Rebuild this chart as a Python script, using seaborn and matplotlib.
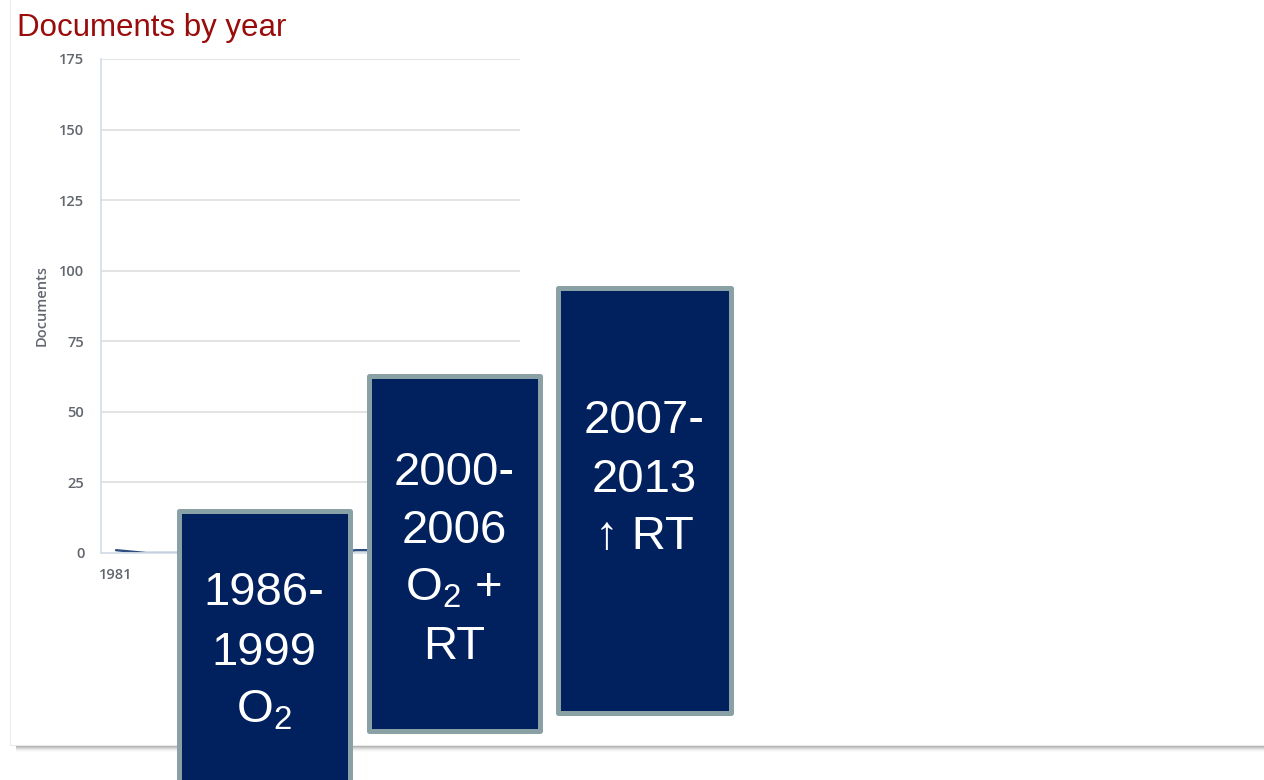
import matplotlib
matplotlib.use("Agg")
import matplotlib.pyplot as plt
from matplotlib.patches import Rectangle
import seaborn as sns

# Documents per publication year (start of the series)
years = [1981, 1982, 1983, 1984, 1985, 1986, 1987, 1988, 1989, 1990, 1991, 1992, 1993, 1994]
documents = [1, 0, 0, 0, 0, 0, 0, 0, 1, 1, 1, 0, 1, 2]

y_ticks = [0, 25, 50, 75, 100, 125, 150, 175]
x_ticks = [1981]

title = "Documents by year"
y_label = "Documents"

# Research periods shown as call-out boxes, one text line per entry
period_lines = [
    ["1986-", "1999", r"$\mathregular{O_2}$"],
    ["2000-", "2006", r"$\mathregular{O_2}$ +", "RT"],
    ["2007-", "2013", "\u2191 RT"],
]

# ---- styling ----
sns.set_style("white")
plt.rcParams["font.family"] = ["Open Sans", "DejaVu Sans"]
plt.rcParams["mathtext.fontset"] = "custom"
plt.rcParams["mathtext.rm"] = "Liberation Sans"

W, H = 1264, 780
fig = plt.figure(figsize=(W / 100, H / 100), dpi=100)
fig.patch.set_facecolor("white")

# page card with a soft shadow along its lower edge
bg = fig.add_axes([0, 0, 1, 1], zorder=0)
bg.set_xlim(0, W)
bg.set_ylim(H, 0)
bg.axis("off")
for i, a in enumerate([0.45, 0.38, 0.3, 0.22, 0.15, 0.09, 0.05, 0.02]):
    bg.add_patch(Rectangle((16, 744 + i), W, 1, facecolor="black", alpha=a, lw=0))
bg.add_patch(Rectangle((10, -3), W + 10, 748, facecolor="white",
                       edgecolor="#ececec", lw=0.8))

# chart area
ax = fig.add_axes([101 / W, 1 - 553 / H, (520 - 101) / W, (553 - 59) / H], zorder=1)
ax.patch.set_alpha(0)
sns.lineplot(x=years, y=documents, ax=ax, color="#2d4e7e", linewidth=1.7)
ax.set_ylim(0, 175)
ax.set_xlim(1980.5, 1994.47)
ax.set_yticks(y_ticks)
ax.set_xticks(x_ticks)
ax.grid(axis="y", color="#dedede", lw=1.2)
ax.grid(axis="x", visible=False)
ax.set_axisbelow(True)
for s in ["top", "right"]:
    ax.spines[s].set_visible(False)
for s in ["left", "bottom"]:
    ax.spines[s].set_color("#d6dee9")
    ax.spines[s].set_linewidth(1.3)
tick_color = "#62666e"
ax.tick_params(axis="y", length=0, pad=12, labelsize=10.5, labelcolor=tick_color)
ax.tick_params(axis="x", length=6, width=1.2, color="#d6dee9", pad=5,
               labelsize=10.5, labelcolor=tick_color)
for lab in ax.get_xticklabels() + ax.get_yticklabels():
    lab.set_fontweight(600)
ax.set_xlabel("")
ax.set_ylabel(y_label, fontsize=10.5, color=tick_color, fontweight=600)
ax.yaxis.set_label_coords((49 - 101) / 419, 0.5)

fig.text(17 / W, 1 - 36 / H, title, color="#9a0b0b", fontsize=22.5,
         family=["Liberation Sans", "DejaVu Sans"], va="baseline", ha="left")

# call-out boxes drawn over the chart
ov = fig.add_axes([0, 0, 1, 1], zorder=2)
ov.set_xlim(0, W)
ov.set_ylim(H, 0)
ov.axis("off")
ov.patch.set_alpha(0)

boxes = [(178.5, 510.5, 171, 290), (368.5, 375.5, 171, 355), (557.5, 287.5, 173, 425)]
baselines = [[605, 665, 723], [485, 543, 601, 659], [433, 492, 549]]
for (x0, y0, w, h), lines, bls in zip(boxes, period_lines, baselines):
    ov.add_patch(Rectangle((x0, y0), w, h, facecolor="#01205e",
                           edgecolor="#89a1a5", lw=3.6, joinstyle="round"))
    cx = x0 + w / 2
    for txt, by in zip(lines, bls):
        ov.text(cx, by, txt, ha="center", va="baseline", color="white",
                fontsize=34, family=["Liberation Sans", "DejaVu Sans"])

fig.savefig("out.png", dpi=100, facecolor="white")
